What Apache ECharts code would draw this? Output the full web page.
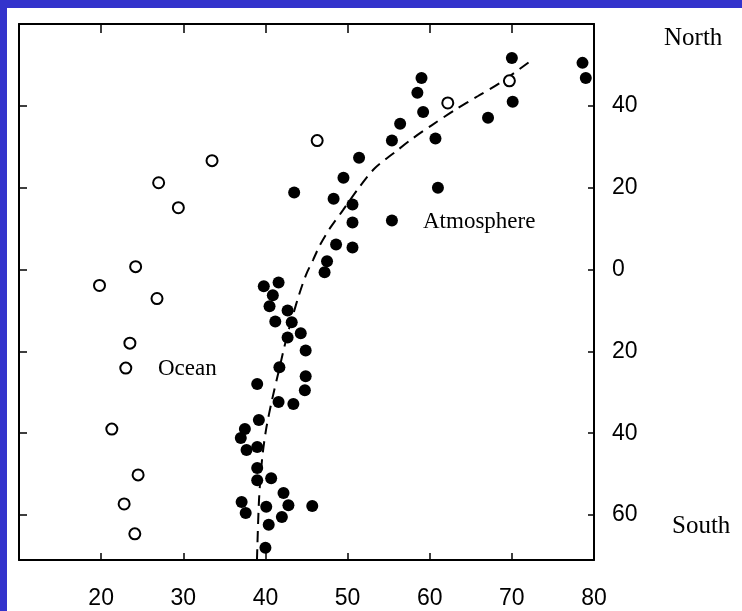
<!DOCTYPE html>
<html>
<head>
<meta charset="utf-8">
<script src="https://cdn.jsdelivr.net/npm/echarts@6/dist/echarts.min.js"></script>
<style>
  html, body { margin: 0; padding: 0; width: 742px; height: 611px; background: #3333cc; overflow: hidden; }
  #chart { position: absolute; left: 7px; top: 8px; width: 735px; height: 603px; background: #ffffff; }
</style>
</head>
<body>
<div id="chart"></div>
<script>
// Ocean (open circles)
var oceanX = [27.0, 29.4, 33.5, 24.2, 19.8, 26.8, 23.5, 23.0, 21.3, 24.5, 22.8, 24.1, 46.3, 62.2, 69.7];
var oceanY = [21.2, 15.1, 26.6, 0.7, -3.9, -7.1, -18.0, -24.1, -39.0, -50.2, -57.3, -64.6, 31.5, 40.7, 46.1];

// Atmosphere (filled dots)
var atmX = [70.0, 78.6, 79.0, 59.0, 58.5, 59.2, 56.4, 70.1, 67.1, 55.4, 60.7, 51.4, 49.5, 61.0, 43.5,
            48.3, 50.6, 50.6, 55.4, 48.6, 50.6, 47.5, 47.2, 39.8, 41.6, 40.9, 40.5, 42.7, 41.2, 43.2,
            42.7, 44.3, 44.9, 41.7, 44.9, 39.0, 44.8, 41.6, 43.4, 39.2, 37.5, 37.0, 37.7, 39.0, 39.0,
            40.7, 39.0, 37.1, 37.6, 40.1, 42.2, 42.8, 42.0, 40.4, 45.7, 40.0];
var atmY = [51.7, 50.5, 46.8, 46.8, 43.2, 38.5, 35.6, 41.0, 37.1, 31.5, 32.0, 27.3, 22.4, 20.0, 18.8,
            17.3, 15.9, 11.5, 12.0, 6.1, 5.4, 2.0, -0.7, -4.1, -3.2, -6.3, -9.0, -10.0, -12.7, -12.9,
            -16.6, -15.6, -19.8, -23.9, -26.1, -28.0, -29.5, -32.4, -32.9, -36.8, -39.0, -41.2, -44.1, -43.4, -48.5,
            -51.0, -51.5, -56.8, -59.5, -58.0, -54.6, -57.6, -60.5, -62.4, -57.8, -68.0];

// Dashed trend curve
var curveX = [38.97, 39.22, 39.58, 40.07, 40.80, 41.65, 42.51, 43.36, 44.09, 44.94, 45.79, 46.65,
              47.86, 49.44, 51.27, 53.34, 55.78, 57.97, 60.28, 63.08, 65.88, 68.56, 72.45];
var curveY = [-71.0, -56.3, -46.6, -39.2, -31.9, -24.6, -17.2, -11.1, -6.2, -1.3, 2.3, 6.0,
              10.1, 14.5, 19.7, 24.8, 28.7, 32.1, 35.3, 39.0, 42.4, 45.6, 51.2];

// Axis ticks
var xTicks = [10, 20, 30, 40, 50, 60, 70, 80];
var yTicks = [-60, -40, -20, 0, 20, 40];

function zip(a, b) { return a.map(function (v, i) { return [v, b[i]]; }); }

var chart = echarts.init(document.getElementById('chart'));
var axisLineStyle = { color: '#000', width: 2 };
var labelFont = { color: '#000', fontFamily: 'Liberation Sans, Arial, sans-serif', fontSize: 23 };
var serif = '"Liberation Serif", "Times New Roman", serif';

var option = {
  animation: false,
  backgroundColor: '#ffffff',
  grid: { left: 12, top: 16, width: 575, height: 536, containLabel: false },
  xAxis: [
    {
      type: 'value', position: 'bottom', min: 10, max: 80, interval: 10,
      axisLine: { show: true, onZero: false, lineStyle: axisLineStyle },
      axisTick: { show: true, inside: true, length: 7, lineStyle: { color: '#000', width: 1.5 } },
      axisLabel: Object.assign({ margin: 27, showMinLabel: false,
        formatter: function (v) { return xTicks.indexOf(v) > 0 ? String(v) : ''; } }, labelFont),
      splitLine: { show: false }
    },
    {
      type: 'value', position: 'top', min: 10, max: 80, interval: 10,
      axisLine: { show: true, onZero: false, lineStyle: axisLineStyle },
      axisTick: { show: true, inside: true, length: 9, lineStyle: { color: '#000', width: 1.5 } },
      axisLabel: { show: false },
      splitLine: { show: false }
    }
  ],
  yAxis: [
    {
      type: 'value', position: 'right', min: -71, max: 60,
      axisLine: { show: true, onZero: false, lineStyle: axisLineStyle },
      axisTick: { show: true, inside: true, length: 6, customValues: yTicks, lineStyle: { color: '#000', width: 1.5 } },
      axisLabel: Object.assign({ margin: 18, customValues: yTicks,
        formatter: function (v) { return String(Math.abs(v)); } }, labelFont),
      splitLine: { show: false }
    },
    {
      type: 'value', position: 'left', min: -71, max: 60,
      axisLine: { show: true, onZero: false, lineStyle: axisLineStyle },
      axisTick: { show: true, inside: true, length: 8, customValues: yTicks, lineStyle: { color: '#000', width: 1.5 } },
      axisLabel: { show: false },
      splitLine: { show: false }
    }
  ],
  series: [
    {
      name: 'Trend', type: 'line', xAxisIndex: 0, yAxisIndex: 0,
      data: zip(curveX, curveY), smooth: 0.3, showSymbol: false, symbol: 'none',
      lineStyle: { color: '#000', width: 2, type: [11, 7] }, z: 1
    },
    {
      name: 'Ocean', type: 'scatter', xAxisIndex: 0, yAxisIndex: 0,
      data: zip(oceanX, oceanY), symbol: 'circle', symbolSize: 11,
      itemStyle: { color: '#fff', borderColor: '#000', borderWidth: 2, opacity: 1 }, z: 3
    },
    {
      name: 'Atmosphere', type: 'scatter', xAxisIndex: 0, yAxisIndex: 0,
      data: zip(atmX, atmY), symbol: 'circle', symbolSize: 12,
      itemStyle: { color: '#000', opacity: 1 }, z: 2
    }
  ],
  graphic: [
    { type: 'text', left: 657, top: 18, style: { text: 'North', fill: '#000', font: '25px ' + serif } },
    { type: 'text', left: 665, top: 506, style: { text: 'South', fill: '#000', font: '25px ' + serif } },
    { type: 'text', left: 151, top: 349, style: { text: 'Ocean', fill: '#000', font: '23px ' + serif } },
    { type: 'text', left: 416, top: 202, style: { text: 'Atmosphere', fill: '#000', font: '23px ' + serif } }
  ]
};
chart.setOption(option);
</script>
</body>
</html>
